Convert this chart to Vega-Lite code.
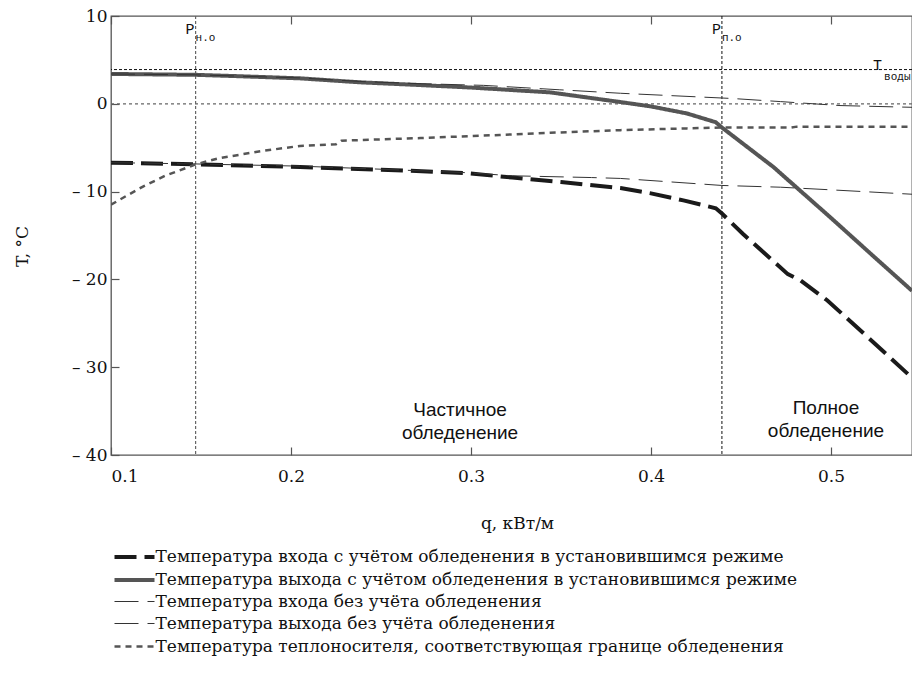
{
  "$schema": "https://vega.github.io/schema/vega-lite/v6.json",
  "autosize": "none",
  "width": 801,
  "height": 439,
  "padding": {"left": 111, "top": 16, "right": 0, "bottom": 226},
  "background": "white",
  "config": {
    "view": {"stroke": "#555", "strokeWidth": 1.3},
    "axis": {"domain": false, "grid": false, "tickColor": "#555", "tickWidth": 1.2, "labelFont": "DejaVu Serif", "labelFontSize": 17, "labelColor": "#111", "titleFont": "DejaVu Serif", "titleFontSize": 17, "titleFontWeight": "normal", "titleColor": "#111"}
  },
  "resolve": {"axis": {"x": "independent", "y": "independent"}},
  "layer": [
    {
      "data": {"values": [{"t": 0}]},
      "mark": {"type": "rule", "stroke": "#666", "strokeWidth": 1.2, "strokeDash": [3, 3]},
      "encoding": {"y": {"field": "t", "type": "quantitative", "scale": {"domain": [-40, 10], "nice": false, "zero": false},
        "axis": {"orient": "left", "values": [10, 0, -10, -20, -30, -40], "ticks": false, "labelPadding": 4, "labelExpr": "datum.value < 0 ? '– ' + format(-datum.value, 'd') : format(datum.value, 'd')", "title": "T, °C", "titleAngle": -90, "titleX": -89, "titleY": 230, "titleAlign": "center", "titleBaseline": "middle"}}}
    },
    {
      "data": {"values": [{"t": 3.9}]},
      "mark": {"type": "rule", "stroke": "#111", "strokeWidth": 1, "strokeDash": [3, 2]},
      "encoding": {"y": {"field": "t", "type": "quantitative",
        "axis": {"orient": "right", "offset": -801, "values": [10, 0, -10, -20, -30, -40], "labels": false, "ticks": true, "tickSize": 8, "title": null}}}
    },
    {
      "data": {"values": [{"q": 0.147}]},
      "mark": {"type": "rule", "stroke": "#666", "strokeWidth": 1.2, "strokeDash": [3, 2]},
      "encoding": {"x": {"field": "q", "type": "quantitative", "scale": {"domain": [0.1, 0.545], "nice": false, "zero": false},
        "axis": {"orient": "bottom", "values": [0.1, 0.2, 0.3, 0.4, 0.5], "format": ".1f", "ticks": false, "labelPadding": 13, "title": "q, кВт/м", "titleX": 406, "titleY": 73, "titleBaseline": "alphabetic", "titleAnchor": "middle"}}}
    },
    {
      "data": {"values": [{"q": 0.4394}]},
      "mark": {"type": "rule", "stroke": "#111", "strokeWidth": 1, "strokeDash": [3, 2]},
      "encoding": {"x": {"field": "q", "type": "quantitative",
        "axis": {"orient": "top", "offset": -439, "values": [0.1, 0.2, 0.3, 0.4, 0.5], "labels": false, "ticks": true, "tickSize": 8, "title": null}}}
    },
    {
      "data": {"values": [
        {"s": "Температура входа с учётом обледенения в установившимся режиме", "q": 0.1, "t": -6.7},
        {"s": "Температура входа с учётом обледенения в установившимся режиме", "q": 0.147, "t": -6.9},
        {"s": "Температура входа с учётом обледенения в установившимся режиме", "q": 0.205, "t": -7.2},
        {"s": "Температура входа с учётом обледенения в установившимся режиме", "q": 0.25, "t": -7.5},
        {"s": "Температура входа с учётом обледенения в установившимся режиме", "q": 0.298, "t": -7.9},
        {"s": "Температура входа с учётом обледенения в установившимся режиме", "q": 0.323, "t": -8.4},
        {"s": "Температура входа с учётом обледенения в установившимся режиме", "q": 0.35, "t": -8.9},
        {"s": "Температура входа с учётом обледенения в установившимся режиме", "q": 0.383, "t": -9.6},
        {"s": "Температура входа с учётом обледенения в установившимся режиме", "q": 0.4, "t": -10.2},
        {"s": "Температура входа с учётом обледенения в установившимся режиме", "q": 0.418, "t": -11.0},
        {"s": "Температура входа с учётом обледенения в установившимся режиме", "q": 0.436, "t": -11.9},
        {"s": "Температура входа с учётом обледенения в установившимся режиме", "q": 0.4394, "t": -12.5},
        {"s": "Температура входа с учётом обледенения в установившимся режиме", "q": 0.451, "t": -14.8},
        {"s": "Температура входа с учётом обледенения в установившимся режиме", "q": 0.476, "t": -19.4},
        {"s": "Температура входа с учётом обледенения в установившимся режиме", "q": 0.483, "t": -20.1},
        {"s": "Температура входа с учётом обледенения в установившимся режиме", "q": 0.498, "t": -22.4},
        {"s": "Температура входа с учётом обледенения в установившимся режиме", "q": 0.52, "t": -26.5},
        {"s": "Температура входа с учётом обледенения в установившимся режиме", "q": 0.545, "t": -31.2},

        {"s": "Температура выхода с учётом обледенения в установившимся режиме", "q": 0.1, "t": 3.4},
        {"s": "Температура выхода с учётом обледенения в установившимся режиме", "q": 0.147, "t": 3.3},
        {"s": "Температура выхода с учётом обледенения в установившимся режиме", "q": 0.17, "t": 3.15},
        {"s": "Температура выхода с учётом обледенения в установившимся режиме", "q": 0.205, "t": 2.9},
        {"s": "Температура выхода с учётом обледенения в установившимся режиме", "q": 0.238, "t": 2.45},
        {"s": "Температура выхода с учётом обледенения в установившимся режиме", "q": 0.27, "t": 2.15},
        {"s": "Температура выхода с учётом обледенения в установившимся режиме", "q": 0.3, "t": 1.85},
        {"s": "Температура выхода с учётом обледенения в установившимся режиме", "q": 0.344, "t": 1.3},
        {"s": "Температура выхода с учётом обледенения в установившимся режиме", "q": 0.383, "t": 0.2},
        {"s": "Температура выхода с учётом обледенения в установившимся режиме", "q": 0.4, "t": -0.3},
        {"s": "Температура выхода с учётом обледенения в установившимся режиме", "q": 0.42, "t": -1.1},
        {"s": "Температура выхода с учётом обледенения в установившимся режиме", "q": 0.436, "t": -2.1},
        {"s": "Температура выхода с учётом обледенения в установившимся режиме", "q": 0.4394, "t": -2.7},
        {"s": "Температура выхода с учётом обледенения в установившимся режиме", "q": 0.468, "t": -7.2},
        {"s": "Температура выхода с учётом обледенения в установившимся режиме", "q": 0.5, "t": -13.0},
        {"s": "Температура выхода с учётом обледенения в установившимся режиме", "q": 0.52, "t": -16.7},
        {"s": "Температура выхода с учётом обледенения в установившимся режиме", "q": 0.545, "t": -21.3},

        {"s": "Температура входа без учёта обледенения", "q": 0.1, "t": -6.7},
        {"s": "Температура входа без учёта обледенения", "q": 0.147, "t": -6.85},
        {"s": "Температура входа без учёта обледенения", "q": 0.205, "t": -7.1},
        {"s": "Температура входа без учёта обледенения", "q": 0.25, "t": -7.45},
        {"s": "Температура входа без учёта обледенения", "q": 0.298, "t": -7.85},
        {"s": "Температура входа без учёта обледенения", "q": 0.323, "t": -8.2},
        {"s": "Температура входа без учёта обледенения", "q": 0.367, "t": -8.4},
        {"s": "Температура входа без учёта обледенения", "q": 0.383, "t": -8.5},
        {"s": "Температура входа без учёта обледенения", "q": 0.4394, "t": -9.3},
        {"s": "Температура входа без учёта обледенения", "q": 0.472, "t": -9.5},
        {"s": "Температура входа без учёта обледенения", "q": 0.5, "t": -9.8},
        {"s": "Температура входа без учёта обледенения", "q": 0.545, "t": -10.3},

        {"s": "Температура выхода без учёта обледенения", "q": 0.1, "t": 3.4},
        {"s": "Температура выхода без учёта обледенения", "q": 0.147, "t": 3.3},
        {"s": "Температура выхода без учёта обледенения", "q": 0.205, "t": 2.95},
        {"s": "Температура выхода без учёта обледенения", "q": 0.238, "t": 2.55},
        {"s": "Температура выхода без учёта обледенения", "q": 0.27, "t": 2.3},
        {"s": "Температура выхода без учёта обледенения", "q": 0.307, "t": 2.1},
        {"s": "Температура выхода без учёта обледенения", "q": 0.349, "t": 1.6},
        {"s": "Температура выхода без учёта обледенения", "q": 0.383, "t": 1.2},
        {"s": "Температура выхода без учёта обледенения", "q": 0.4456, "t": 0.6},
        {"s": "Температура выхода без учёта обледенения", "q": 0.472, "t": 0.25},
        {"s": "Температура выхода без учёта обледенения", "q": 0.505, "t": -0.2},
        {"s": "Температура выхода без учёта обледенения", "q": 0.545, "t": -0.4},

        {"s": "Температура теплоносителя, соответствующая границе обледенения", "q": 0.1, "t": -11.5},
        {"s": "Температура теплоносителя, соответствующая границе обледенения", "q": 0.105, "t": -10.9},
        {"s": "Температура теплоносителя, соответствующая границе обледенения", "q": 0.118, "t": -9.4},
        {"s": "Температура теплоносителя, соответствующая границе обледенения", "q": 0.13, "t": -8.2},
        {"s": "Температура теплоносителя, соответствующая границе обледенения", "q": 0.147, "t": -6.9},
        {"s": "Температура теплоносителя, соответствующая границе обледенения", "q": 0.16, "t": -6.2},
        {"s": "Температура теплоносителя, соответствующая границе обледенения", "q": 0.183, "t": -5.4},
        {"s": "Температура теплоносителя, соответствующая границе обледенения", "q": 0.205, "t": -4.8},
        {"s": "Температура теплоносителя, соответствующая границе обледенения", "q": 0.225, "t": -4.6},
        {"s": "Температура теплоносителя, соответствующая границе обледенения", "q": 0.228, "t": -4.2},
        {"s": "Температура теплоносителя, соответствующая границе обледенения", "q": 0.272, "t": -3.9},
        {"s": "Температура теплоносителя, соответствующая границе обледенения", "q": 0.316, "t": -3.55},
        {"s": "Температура теплоносителя, соответствующая границе обледенения", "q": 0.344, "t": -3.3},
        {"s": "Температура теплоносителя, соответствующая границе обледенения", "q": 0.383, "t": -3.0},
        {"s": "Температура теплоносителя, соответствующая границе обледенения", "q": 0.42, "t": -2.8},
        {"s": "Температура теплоносителя, соответствующая границе обледенения", "q": 0.4394, "t": -2.7},
        {"s": "Температура теплоносителя, соответствующая границе обледенения", "q": 0.478, "t": -2.7},
        {"s": "Температура теплоносителя, соответствующая границе обледенения", "q": 0.481, "t": -2.6},
        {"s": "Температура теплоносителя, соответствующая границе обледенения", "q": 0.545, "t": -2.6}
      ]},
      "mark": {"type": "line", "clip": true, "strokeCap": "butt"},
      "encoding": {
        "x": {"field": "q", "type": "quantitative", "axis": {"orient": "bottom", "offset": -439, "values": [0.1, 0.2, 0.3, 0.4, 0.5], "labels": false, "ticks": true, "tickSize": 8, "title": null}},
        "y": {"field": "t", "type": "quantitative", "axis": null},
        "color": {"field": "s", "type": "nominal", "sort": null,
          "scale": {"domain": ["Температура входа с учётом обледенения в установившимся режиме", "Температура выхода с учётом обледенения в установившимся режиме", "Температура входа без учёта обледенения", "Температура выхода без учёта обледенения", "Температура теплоносителя, соответствующая границе обледенения"], "range": ["#1a1a1a", "#555555", "#333333", "#333333", "#555555"]},
          "legend": {"orient": "none", "legendX": 11.5, "legendY": 529, "title": null, "padding": 0, "symbolType": "M-2,0H2", "symbolSize": 400, "labelFont": "DejaVu Serif", "labelFontSize": 17, "labelColor": "#111", "labelOffset": 9, "rowPadding": 3, "labelLimit": 800,
            "encode": {"symbols": {"update": {"strokeWidth": {"scale": "strokeWidth", "field": "value"}, "fill": {"value": "transparent"}}}}}},
        "strokeDash": {"field": "s", "type": "nominal", "sort": null,
          "scale": {"domain": ["Температура входа с учётом обледенения в установившимся режиме", "Температура выхода с учётом обледенения в установившимся режиме", "Температура входа без учёта обледенения", "Температура выхода без учёта обледенения", "Температура теплоносителя, соответствующая границе обледенения"], "range": [[22, 8], [1, 0], [24, 9], [24, 9], [6, 5]]}},
        "strokeWidth": {"field": "s", "type": "nominal", "sort": null, "legend": null,
          "scale": {"type": "ordinal", "domain": ["Температура входа с учётом обледенения в установившимся режиме", "Температура выхода с учётом обледенения в установившимся режиме", "Температура входа без учёта обледенения", "Температура выхода без учёта обледенения", "Температура теплоносителя, соответствующая границе обледенения"], "range": [4, 4, 1, 1, 2.5]}}
      }
    },
    {
      "data": {"values": [
        {"q": 0.147, "t": 8.0, "txt": "P"},
        {"q": 0.4394, "t": 8.0, "txt": "P"},
        {"q": 0.5289, "t": 3.85, "txt": "T"}
      ]},
      "mark": {"type": "text", "font": "Liberation Mono", "fontSize": 15, "align": "right", "baseline": "alphabetic", "dx": -1, "color": "#111"},
      "encoding": {"x": {"field": "q", "type": "quantitative", "axis": null}, "y": {"field": "t", "type": "quantitative", "axis": null}, "text": {"field": "txt"}}
    },
    {
      "data": {"values": [
        {"q": 0.147, "t": 7.2, "txt": "н.о"},
        {"q": 0.4394, "t": 7.2, "txt": "п.о"},
        {"q": 0.5295, "t": 2.7, "txt": "воды"}
      ]},
      "mark": {"type": "text", "font": "Liberation Mono", "fontSize": 11, "align": "left", "baseline": "alphabetic", "color": "#111"},
      "encoding": {"x": {"field": "q", "type": "quantitative", "axis": null}, "y": {"field": "t", "type": "quantitative", "axis": null}, "text": {"field": "txt"}}
    },
    {
      "data": {"values": [
        {"q": 0.2939, "t": -35.6, "txt": "Частичное"},
        {"q": 0.2939, "t": -38.2, "txt": "обледенение"},
        {"q": 0.4972, "t": -35.3, "txt": "Полное"},
        {"q": 0.4972, "t": -38.0, "txt": "обледенение"}
      ]},
      "mark": {"type": "text", "font": "Liberation Sans", "fontSize": 19, "align": "center", "baseline": "alphabetic", "color": "#111"},
      "encoding": {"x": {"field": "q", "type": "quantitative", "axis": null}, "y": {"field": "t", "type": "quantitative", "axis": null}, "text": {"field": "txt"}}
    }
  ]
}
